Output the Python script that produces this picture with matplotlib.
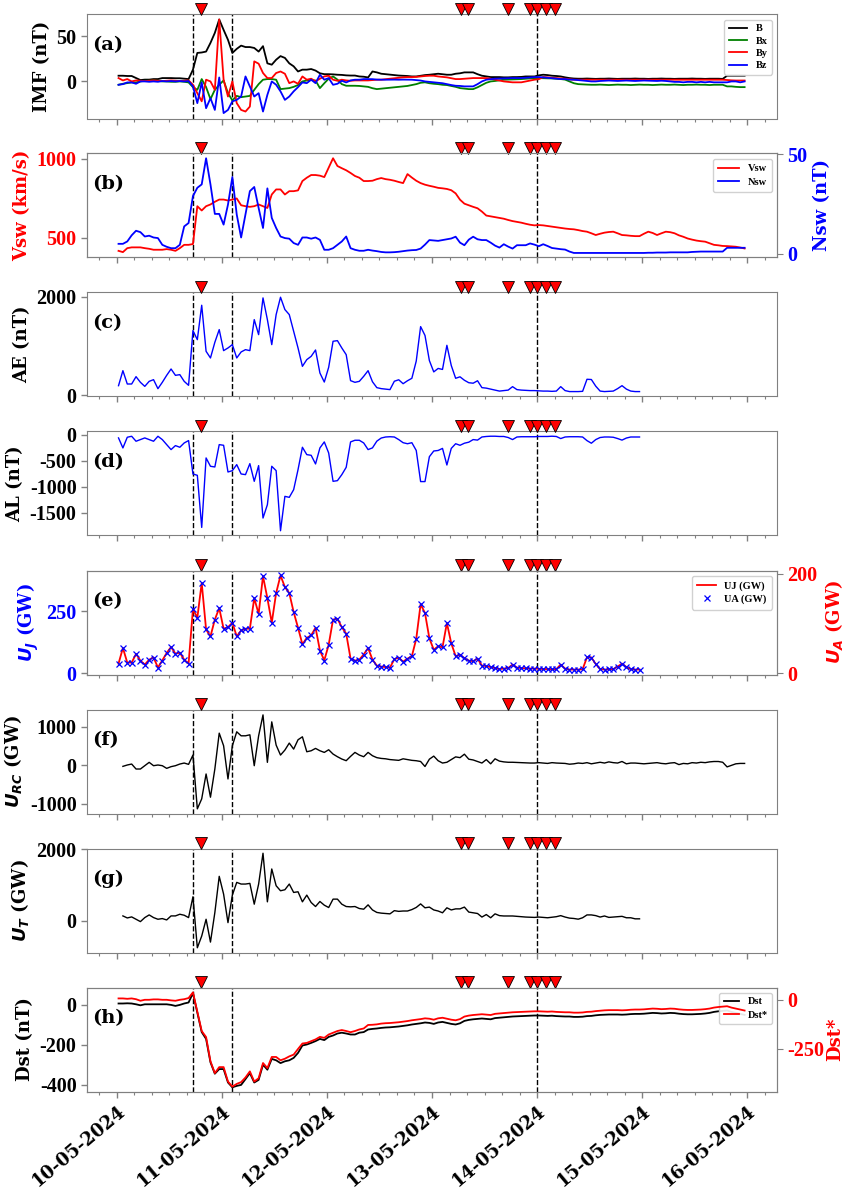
import numpy as np
import matplotlib
matplotlib.use("Agg")
import matplotlib.pyplot as plt
from matplotlib.ticker import FixedLocator, MultipleLocator

plt.rcParams["font.family"] = ["Liberation Serif", "DejaVu Serif"]
plt.rcParams["font.weight"] = "bold"
plt.rcParams["axes.labelweight"] = "bold"
plt.rcParams["mathtext.fontset"] = "dejavusans"
plt.rcParams["axes.unicode_minus"] = False

# ---------------- data (hourly values, hour index since 10-05-2024 00 UT) ----------------
date_labels = ["10-05-2024", "11-05-2024", "12-05-2024", "13-05-2024",
               "14-05-2024", "15-05-2024", "16-05-2024"]
date_hours = [0, 24, 48, 72, 96, 120, 144]
boundary_hours = [17.43, 26.38, 96.0]
event_hours = [19.3, 78.7, 80.3, 89.3, 94.4, 95.9, 98.1, 100.1]

B = [6.3, 6.3, 6, 6, 3.7, 1.5, 2, 2, 2.6, 2.6,
     3.7, 3.7, 3.7, 3.5, 3.5, 3, 2.6, 13, 31.5, 32,
     33, 42.6, 53.7, 68.5, 57, 46, 31.5, 36, 39.6, 38,
     38, 37, 33, 39, 20, 18.5, 24, 28, 26, 20,
     16.7, 11, 13, 13, 13.7, 12, 9, 8, 8, 7.8,
     7.4, 7.2, 6.7, 6.5, 6.5, 5.5, 5.2, 4.4, 11, 10,
     8.5, 8, 7.4, 7, 6.5, 6.3, 6, 5.5, 5.5, 6.3,
     7, 7.4, 8, 8.5, 8, 7.4, 7.4, 8.5, 9, 10,
     10, 10, 8, 6.3, 5.5, 4.8, 4.8, 4.8, 4.5, 4.5,
     4.8, 4.8, 5, 5.5, 5.5, 5.5, 6.7, 7.4, 7, 6.3,
     6, 5.5, 4.5, 3.7, 3.2, 3, 3, 3.2, 3, 2.8,
     3, 3, 3.2, 3, 2.8, 3, 3, 3, 3.2, 3,
     3, 2.8, 3, 3, 3.2, 3, 3, 2.8, 3, 3,
     3, 3.2, 3, 3, 2.8, 3, 3, 3, 2.8, 6.3,
     6.3, 6.3, 6.3, 6.3]
Bx = [-3.7, -2.6, -1.9, -1.1, -1.1, 0, 0.7, 0.7, 1.1, 0.7,
      0, 0, -0.4, -0.4, 0, -0.4, -1.1, -6.3, -9.3, 2.6,
      -6.3, -19.6, -9.3, -3.7, 1.1, -13, -21, -16, -17.4, -16.7,
      -16, -9.3, -3, 1.9, 2.6, 2.6, 1.9, -8.5, -8, -7.4,
      -6, -4, 0, 1, 1.5, 1, -7.4, -2, 3, 5.5,
      2, -3, -4.8, -4.8, -4.8, -5, -5.5, -6, -7.5, -8.5,
      -8, -7.4, -7, -6.5, -6, -5.5, -5, -4, -3, -1.5,
      -1, -2, -2.6, -3, -3.7, -4, -5, -6, -7.4, -8,
      -8.5, -8.5, -6.5, -4, -1.5, 0, 0.5, 1.2, 1.9, 2,
      2.2, 2.4, 2.6, 3, 3.3, 3.5, 3.7, 3.5, 3.4, 3.3,
      3, 2.6, 2, 0, -2, -3, -3.3, -3.5, -3.7, -3.7,
      -3.5, -3.7, -4, -3.7, -3.5, -3.7, -3.7, -4, -3.7, -3.5,
      -3.7, -3.7, -4, -3.7, -3.5, -3.7, -3.7, -3.5, -3.7, -4,
      -3.7, -3.7, -3.5, -3.7, -3.7, -4, -3.7, -3.7, -3.7, -5.5,
      -5.5, -6, -6.3, -6.3]
By = [3.7, 1.1, 2.6, 0, 1.1, 0.7, 0.4, 0.7, 1.1, 0.7,
      0.4, 0.7, 1.1, 0.7, 0.4, 0.7, 1.1, -3.7, -13, -22,
      1.9, 0, -9.3, 68.5, 1.9, -16.7, 0, -24, -31.5, -33.3,
      -27.8, 22.2, 19.6, 9.3, 3.7, 3.7, 9.3, 11, 8.5, -1.9,
      0, -2.6, 5.5, 1.9, 3, 0, 3, 5.5, 6.3, 1.9,
      0.7, 1.9, 1.1, 0.7, 1.1, 1.1, 1.1, 1.1, 1.5, 1.9,
      1.9, 2.5, 3, 3.5, 4, 4.5, 4.8, 4.8, 5, 5.5,
      6, 6.3, 6.3, 5.5, 5, 4.5, 3.5, 2.6, 2.6, 3,
      3.5, 3.7, 3.7, 3.7, 3.7, 3, 2, 1, 0, -0.5,
      -1, -1, -1, 0, 1, 1.9, 2.5, 4.8, 4.5, 4,
      3.7, 3.5, 3, 2.5, 1.9, 1.9, 1.9, 2, 1.9, 1.9,
      2, 1.9, 1.9, 2, 1.9, 1.9, 2, 1.9, 1.9, 2,
      1.9, 1.9, 1.9, 2, 1.9, 1.9, 2, 1.9, 1.9, 1.9,
      2, 1.9, 1.9, 1.9, 2, 1.9, 1.9, 1.9, 1.9, 1.5,
      1.2, 1, 1, 1]
Bz = [-3.7, -3, -1.1, -1.1, -2.6, 0, 0, -0.4, 0, -0.4,
      0.4, 0, 0.4, 0, 0.4, 0, 0.4, -5.5, -24, -1.1,
      -29.6, -18.5, -31.5, 4.4, -35, -31.5, -22, -20.4, -16.7, 5.5,
      -5.5, -16.7, -13, -33.3, -14.8, 0, -3.7, -11, -20.4, -16.7,
      -11, -6.3, -1.1, -1.9, 1.9, -1.9, 7.4, 1.9, 3.7, -3.7,
      -2.6, 0.7, -1.1, 1.1, 1.9, 1.9, 2.6, 2.6, 2.5, 2,
      1.9, 1.9, 2, 2, 1.9, 2, 1.9, 1.9, 1.5, 1,
      0, -0.5, -1, -1.5, -2, -3, -4, -4.8, -5, -5.5,
      -5.5, -5.5, -3, 0, 1.9, 2.5, 3, 3.2, 3.5, 3.7,
      3.7, 3.7, 3.7, 4, 4.4, 4.8, 4.8, 4.5, 4, 3.5,
      3, 2.6, 2.6, 2, 1.9, 1.5, 1, 0.5, 0, 0,
      0.5, 0.8, 1, 0.8, 0.5, 0.8, 1, 0.8, 0.5, 0.8,
      1, 0.8, 0.5, 0.5, 0.8, 0.5, 0, -0.5, -0.5, -1,
      -0.5, -0.5, -1, -0.5, -1, -0.5, -1, -1, -1, -1,
      0, 0, -1, 0]

Vsw = [417, 409, 434, 439, 439, 439, 434, 430, 424, 424,
       424, 428, 424, 417, 434, 455, 455, 460, 699, 672,
       699, 710, 727, 741, 741, 735, 741, 748, 705, 699,
       695, 699, 710, 699, 688, 773, 805, 805, 773, 794,
       794, 799, 858, 879, 896, 896, 892, 883, 943, 1002,
       953, 939, 926, 909, 890, 879, 858, 858, 860, 870,
       877, 870, 866, 860, 852, 845, 902, 880, 860, 845,
       835, 828, 822, 815, 812, 808, 800, 780, 740, 715,
       705, 695, 686, 665, 640, 635, 630, 625, 620, 612,
       605, 600, 595, 588, 582, 578, 580, 578, 574, 570,
       566, 562, 558, 555, 553, 548, 542, 538, 528, 517,
       525, 532, 536, 538, 528, 517, 515, 512, 510, 510,
       525, 538, 530, 517, 528, 538, 535, 528, 515, 506,
       495, 488, 482, 478, 475, 465, 455, 452, 448, 447,
       445, 443, 438, 432]
Nsw = [4.9, 4.9, 6.1, 9.2, 11.5, 10.8, 8.6, 9.0, 8.1, 7.8,
       4.4, 3.4, 2.7, 2.7, 4.4, 13.7, 15.4, 29, 33.2, 34.9,
       48.1, 34.9, 20, 20, 14.6, 24.7, 38.6, 19.7, 8.1, 19.7,
       31.5, 33.6, 23, 12.9, 32.9, 18, 12.9, 8.6, 7.8, 7.5,
       5.3, 4.4, 8.1, 8.1, 7.5, 8.1, 6.9, 1.9, 1.9, 2.7,
       4.4, 6.1, 8.6, 2.7, 1.9, 1.4, 1.4, 1.9, 1.5, 1.2,
       0.8, 0.6, 0.6, 0.7, 0.9, 1.2, 1.5, 1.7, 1.8, 2.5,
       4.5, 6.8, 6.6, 6.4, 6.8, 7.2, 7.6, 8.5, 5.5, 4.2,
       7.0, 8.5, 7.2, 6.8, 6.8, 5.5, 4.0, 3.0, 4.7, 3.5,
       2.5, 4.2, 4.2, 4.2, 5.1, 4.5, 3.7, 4.7, 3.8, 2.8,
       2.5, 2.2, 2.0, 1.0, 0.3, 0.3, 0.3, 0.3, 0.3, 0.3,
       0.3, 0.3, 0.3, 0.3, 0.3, 0.3, 0.3, 0.3, 0.3, 0.3,
       0.3, 0.4, 0.4, 0.5, 0.5, 0.5, 0.6, 0.6, 0.6, 0.6,
       0.6, 0.8, 0.9, 1.0, 1.0, 1.0, 1.0, 1.0, 1.0, 2.9,
       2.9, 2.9, 2.9, 2.9]

AE = [190, 495, 224, 224, 373, 258, 176, 278, 312, 129,
      258, 400, 529, 400, 414, 278, 197, 1309, 1125, 1824,
      888, 753, 1071, 1329, 902, 956, 1024, 753, 875, 922,
      902, 1532, 1227, 1973, 1532, 1024, 1634, 1987, 1736, 1634,
      1295, 956, 583, 719, 786, 915, 447, 264, 563, 1092,
      1105, 956, 820, 292, 258, 278, 380, 495, 270, 150,
      130, 120, 110, 280, 310, 230, 290, 340, 690, 1390,
      1210, 700, 470, 540, 520, 1010, 600, 340, 370, 300,
      250, 240, 290, 150, 140, 120, 100, 80, 90, 100,
      170, 110, 100, 95, 90, 90, 85, 80, 80, 75,
      80, 170, 90, 70, 70, 70, 75, 320, 315, 180,
      80, 70, 75, 80, 130, 190, 120, 80, 70, 70]
AL = [-58, -251, -45, -26, -122, -90, -58, -90, -122, -26,
      -90, -187, -283, -206, -238, -155, -109, -753, -779, -1784,
      -444, -605, -618, -187, -200, -715, -689, -573, -753, -766,
      -554, -895, -592, -1603, -1346, -605, -689, -1848, -1185, -1204,
      -1056, -670, -238, -380, -393, -560, -251, -135, -348, -895,
      -882, -766, -625, -135, -103, -103, -155, -283, -250, -120,
      -60, -40, -35, -40, -90, -150, -170, -150, -300, -900,
      -900, -420, -310, -300, -260, -580, -260, -170, -200, -160,
      -140, -90, -100, -40, -30, -25, -25, -30, -30, -50,
      -90, -40, -35, -35, -35, -35, -30, -30, -30, -25,
      -30, -70, -40, -35, -35, -35, -40, -110, -160, -90,
      -50, -40, -40, -45, -70, -100, -60, -40, -40, -40]

UJ = [38, 101, 42, 42, 77, 50, 34, 54, 63, 22,
      51, 81, 105, 78, 82, 54, 38, 259, 223, 364,
      176, 148, 216, 262, 179, 185, 203, 148, 172, 179,
      179, 302, 239, 391, 302, 203, 323, 394, 347, 323,
      246, 183, 116, 142, 152, 183, 91, 51, 114, 216,
      219, 185, 159, 58, 50, 54, 75, 101, 54, 30,
      26, 24, 22, 56, 62, 46, 58, 68, 138, 278,
      242, 140, 94, 108, 104, 202, 120, 68, 74, 60,
      50, 48, 58, 30, 28, 24, 20, 16, 18, 20,
      34, 22, 20, 19, 18, 18, 17, 16, 16, 15,
      16, 34, 18, 14, 14, 14, 15, 64, 63, 36,
      16, 14, 15, 16, 26, 38, 24, 16, 14, 14]
UA = [19, 50, 21, 21, 38, 25, 17, 27, 31, 11,
      25, 40, 52, 39, 41, 27, 19, 129, 111, 182,
      88, 74, 108, 131, 89, 92, 101, 74, 86, 89,
      89, 151, 119, 195, 151, 101, 161, 197, 173, 161,
      123, 91, 58, 71, 76, 91, 45, 25, 57, 108,
      109, 92, 79, 29, 25, 27, 37, 50, 27, 15,
      13, 12, 11, 28, 31, 23, 29, 34, 69, 139,
      121, 70, 47, 54, 52, 101, 60, 34, 37, 30,
      25, 24, 29, 15, 14, 12, 10, 8, 9, 10,
      17, 11, 10, 9.5, 9, 9, 8.5, 8, 8, 7.5,
      8, 17, 9, 7, 7, 7, 7.5, 32, 31, 18,
      8, 7, 7.5, 8, 13, 19, 12, 8, 7, 7]

URC = [-26, 9, 34, -95, -95, -9, 78, -9, 9, -9,
       -78, -34, -9, 34, 60, 26, 267, -1129, -870, -224,
       -827, -95, 836, 509, -353, 509, 871, 767, 767, 793,
       -9, 767, 1310, 78, 1129, 526, 267, 397, 578, 422,
       664, 741, 353, 379, 440, 379, 336, 405, 293, 224,
       164, 121, 233, 336, 267, 224, 336, 250, 200, 180,
       170, 150, 140, 130, 170, 150, 130, 120, 100, -30,
       160, 240, 120, 60, 80, 150, 220, 200, 290, 160,
       140, 100, 60, 150, 40, 170, 110, 90, 80, 80,
       75, 70, 65, 60, 60, 70, 60, 50, 70, 60,
       55, 50, 30, 40, 60, 50, 70, 40, 60, 80,
       60, 90, 70, 60, 100, 40, 60, 60, 50, 40,
       50, 60, 70, 50, 40, 60, 70, 20, 50, 40,
       70, 60, 80, 70, 90, 100, 100, 80, -40, 0,
       40, 50, 50]
UT = [132, 75, 104, 38, -28, 85, 160, 85, 38, 57,
      19, 132, 132, 179, 151, 85, 670, -764, -434, 38,
      -604, 226, 1245, 745, -57, 717, 1075, 1028, 1028, 1047,
      462, 1028, 1895, 528, 1452, 981, 839, 868, 1028, 792,
      811, 528, 717, 509, 396, 538, 434, 368, 604, 604,
      462, 396, 387, 396, 340, 321, 443, 300, 230, 210,
      200, 190, 280, 260, 270, 270, 310, 370, 470, 360,
      380, 300, 270, 220, 360, 300, 330, 330, 380, 240,
      220, 200, 100, 170, 80, 190, 140, 130, 130, 130,
      120, 110, 100, 95, 90, 100, 90, 80, 95, 110,
      140, 100, 70, 60, 40, 80, 160, 160, 140, 100,
      130, 90, 100, 110, 120, 80, 80, 50, 50]

Dst = [7, 7, 8, 7, 3, -2, 3, 3, 3, 3,
       3, 3, 0, -5, 0, 7, 12, 59, -39, -136,
       -170, -287, -344, -321, -321, -388, -412, -405, -400, -371,
       -341, -388, -375, -299, -324, -270, -277, -291, -282, -277,
       -265, -240, -203, -198, -190, -181, -170, -176, -160, -153,
       -143, -139, -143, -148, -148, -139, -136, -123, -120, -118,
       -115, -113, -112, -110, -108, -105, -102, -98, -95, -92,
       -88, -90, -95, -88, -85, -90, -95, -98, -92, -80,
       -75, -72, -70, -68, -70, -72, -66, -64, -62, -60,
       -58, -57, -56, -55, -54, -53, -53, -54, -55, -54,
       -56, -57, -58, -58, -60, -60, -59, -56, -55, -52,
       -50, -49, -48, -48, -48, -49, -48, -46, -45, -45,
       -44, -42, -40, -41, -43, -42, -40, -41, -44, -46,
       -47, -47, -46, -45, -43, -40, -35, -32, -30, -28,
       -35, -40, -45, -50]
Dst_star = [7, 7, 5, 7, 3, -5, 0, 0, 2, 2,
            0, 0, -3, -5, 0, 3, 9, 38, -62, -160,
            -191, -315, -376, -345, -345, -419, -445, -431, -422, -398,
            -367, -419, -402, -324, -350, -293, -293, -310, -302, -290,
            -281, -252, -224, -221, -212, -203, -190, -195, -178, -169,
            -160, -155, -160, -166, -160, -152, -147, -129, -128, -126,
            -122, -120, -119, -117, -115, -112, -109, -105, -102, -99,
            -95, -97, -102, -95, -92, -97, -102, -105, -99, -86,
            -81, -78, -76, -74, -76, -78, -72, -70, -68, -66,
            -64, -63, -62, -61, -60, -59, -59, -60, -61, -60,
            -62, -63, -64, -64, -66, -66, -65, -62, -61, -58,
            -56, -54, -53, -53, -53, -54, -53, -51, -50, -50,
            -49, -47, -45, -46, -48, -47, -45, -46, -49, -51,
            -52, -52, -51, -50, -48, -45, -40, -37, -35, -33,
            -40, -45, -50, -55]

for name, arr, n in [("B", B, 144), ("Bx", Bx, 144), ("By", By, 144), ("Bz", Bz, 144),
                     ("Vsw", Vsw, 144), ("Nsw", Nsw, 144), ("AE", AE, 120), ("AL", AL, 120),
                     ("UJ", UJ, 120), ("UA", UA, 120), ("URC", URC, 143), ("UT", UT, 119),
                     ("Dst", Dst, 144), ("Dst_star", Dst_star, 144)]:
    assert len(arr) == n, (name, len(arr))

# time axes (hours since 10-05-2024 00 UT; hourly samples)
HOUR_SHIFT = 0.4
t_full = np.arange(144) + HOUR_SHIFT
t_ae = np.arange(120) + HOUR_SHIFT
t_urc = np.arange(1, 144) + HOUR_SHIFT
t_ut = np.arange(1, 120) + HOUR_SHIFT

# ---------------- figure ----------------
fig = plt.figure(figsize=(8.46, 11.88), dpi=100)
FW, FH = 846.0, 1188.0
LEFT, RIGHT = 87.0, 777.0
AX_H = 104.0
axes = []
for i in range(8):
    top = 14.5 + 139.0 * i
    axes.append(fig.add_axes([LEFT / FW, 1 - (top + AX_H) / FH,
                              (RIGHT - LEFT) / FW, AX_H / FH]))

SPINE_C = "#808080"
TICK_FS = 14.5
YL_FS = 13
LEG_PROP = {"family": "Liberation Serif", "weight": "bold", "size": 7.5}


def style_spines(a):
    for s in a.spines.values():
        s.set_color(SPINE_C)


def base_style(ax, label):
    style_spines(ax)
    ax.set_xlim(-6.8, 150.8)
    ax.xaxis.set_major_locator(FixedLocator(date_hours))
    ax.xaxis.set_minor_locator(MultipleLocator(4))
    ax.tick_params(axis="both", which="major", length=4, width=1, labelsize=TICK_FS,
                   color=SPINE_C)
    ax.tick_params(axis="x", which="minor", length=2, width=0.8, color=SPINE_C)
    ax.tick_params(axis="x", labelbottom=False)
    for h in boundary_hours:
        ax.axvline(h, color="black", ls="--", lw=1.0, zorder=1)
    ax.plot(event_hours, [1.055] * len(event_hours), "v", transform=ax.get_xaxis_transform(),
            clip_on=False, ms=9, mfc="red", mec="black", mew=0.6, zorder=20)
    ax.text(0.008, 0.71, label, transform=ax.transAxes, fontsize=14, fontweight="bold",
            family="DejaVu Serif", va="center", ha="left")


def ylab(ax, text, color="black", pad=4):
    ax.set_ylabel(text, fontsize=YL_FS, family="DejaVu Serif", fontweight="bold",
                  color=color, labelpad=pad)


# (a) IMF
ax = axes[0]
base_style(ax, "(a)")
ax.plot(t_full, B, color="black", lw=1.3, label="B")
ax.plot(t_full, Bx, color="green", lw=1.3, label="Bx")
ax.plot(t_full, By, color="red", lw=1.3, label="By")
ax.plot(t_full, Bz, color="blue", lw=1.3, label="Bz")
ax.set_ylim(-41, 74)
ax.set_yticks([0, 50])
ylab(ax, "IMF (nT)")
ax.legend(loc="upper right", prop=LEG_PROP, handlelength=1.8, labelspacing=0.3,
          borderpad=0.4, framealpha=0.9)

# (b) Vsw / Nsw
ax = axes[1]
base_style(ax, "(b)")
l1, = ax.plot(t_full, Vsw, color="red", lw=1.3, label="Vsw")
ax.set_ylim(375, 1032)
ax.set_yticks([500, 1000])
ax.tick_params(axis="y", labelcolor="red")
ylab(ax, "Vsw (km/s)", "red")
ax2 = ax.twinx()
style_spines(ax2)
l2, = ax2.plot(t_full, Nsw, color="blue", lw=1.3, label="Nsw")
ax2.set_ylim(-2, 50.5)
ax2.set_yticks([0, 50])
ax2.tick_params(axis="y", labelcolor="blue", labelsize=TICK_FS, length=4, color=SPINE_C)
ylab(ax2, "Nsw (nT)", "blue")
ax2.legend([l1, l2], ["Vsw", "Nsw"], loc="upper right", prop=LEG_PROP, handlelength=2.0,
           labelspacing=0.4, borderpad=0.5, framealpha=0.9)

# (c) AE
ax = axes[2]
base_style(ax, "(c)")
ax.plot(t_ae, AE, color="blue", lw=1.0)
ax.set_ylim(-30, 2083)
ax.set_yticks([0, 2000])
ylab(ax, "AE (nT)")

# (d) AL
ax = axes[3]
base_style(ax, "(d)")
ax.plot(t_ae, AL, color="blue", lw=1.0)
ax.set_ylim(-1940, 66)
ax.set_yticks([0, -500, -1000, -1500])
ylab(ax, "AL (nT)")

# (e) UJ / UA
ax = axes[4]
base_style(ax, "(e)")
l1, = ax.plot(t_ae, UJ, color="red", lw=1.3, label="UJ (GW)")
ax.set_ylim(-6, 414)
ax.set_yticks([0, 250])
ax.tick_params(axis="y", labelcolor="blue")
ylab(ax, r"$\boldsymbol{U_J}$ (GW)", "blue")
ax2 = ax.twinx()
style_spines(ax2)
l2, = ax2.plot(t_ae, UA, "x", color="blue", ms=4, mew=0.9, label="UA (GW)")
ax2.set_ylim(-3, 207)
ax2.set_yticks([0, 200])
ax2.tick_params(axis="y", labelcolor="red", labelsize=TICK_FS, length=4, color=SPINE_C)
ylab(ax2, r"$\boldsymbol{U_A}$ (GW)", "red")
ax2.legend([l1, l2], ["UJ (GW)", "UA (GW)"], loc="upper right", prop=LEG_PROP,
           handlelength=1.8, labelspacing=0.4, borderpad=0.5, framealpha=0.9)

# (f) URC
ax = axes[5]
base_style(ax, "(f)")
ax.plot(t_urc, URC, color="black", lw=1.0)
ax.set_ylim(-1250, 1450)
ax.set_yticks([-1000, 0, 1000])
ylab(ax, r"$\boldsymbol{U_{RC}}$ (GW)")

# (g) UT
ax = axes[6]
base_style(ax, "(g)")
ax.plot(t_ut, UT, color="black", lw=1.0)
ax.set_ylim(-897, 2028)
ax.set_yticks([0, 2000])
ylab(ax, r"$\boldsymbol{U_T}$ (GW)")

# (h) Dst / Dst*
ax = axes[7]
base_style(ax, "(h)")
l1, = ax.plot(t_full, Dst, color="black", lw=1.3, label="Dst")
ax.set_ylim(-433, 87)
ax.set_yticks([-400, -200, 0])
ylab(ax, "Dst (nT)")
ax2 = ax.twinx()
style_spines(ax2)
l2, = ax2.plot(t_full, Dst_star, color="red", lw=1.3, label="Dst*")
ax2.set_ylim(-470, 63)
ax2.set_yticks([-250, 0])
ax2.tick_params(axis="y", labelcolor="red", labelsize=TICK_FS, length=4, color=SPINE_C)
ylab(ax2, "Dst*", "red", pad=1)
ax.legend([l1, l2], ["Dst", "Dst*"], loc="upper right", prop=LEG_PROP, handlelength=1.5,
          labelspacing=0.4, borderpad=0.4, framealpha=0.9)

ax.tick_params(axis="x", labelbottom=True)
ax.set_xticks(date_hours)
ax.set_xticklabels(date_labels, rotation=40, ha="right", rotation_mode="anchor",
                   fontsize=13, family="DejaVu Serif", fontweight="bold")

fig.savefig("out.png", dpi=100)
